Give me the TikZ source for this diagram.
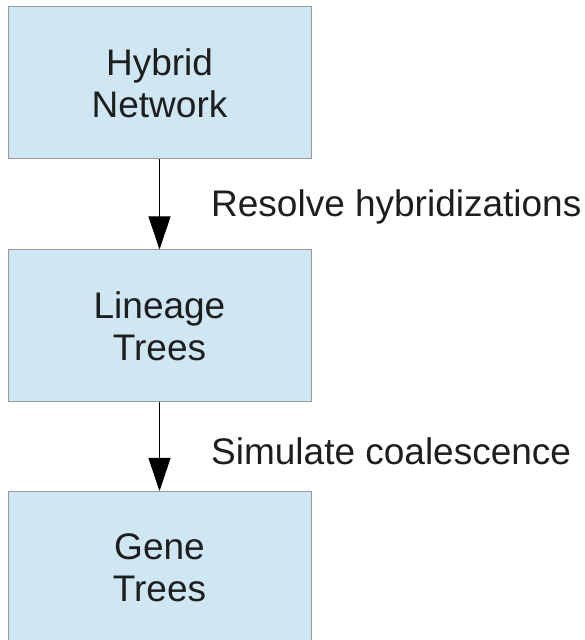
\documentclass[tikz,border=0pt]{standalone}
\usepackage{fontspec}
\setmainfont{Liberation Sans}
\usetikzlibrary{arrows.meta}
\definecolor{stagefill}{HTML}{CFE6F3}
\definecolor{stageline}{HTML}{999999}
\definecolor{stagetext}{HTML}{1E1E1E}
\tikzstyle{stage}=[draw=stageline, fill=stagefill, line width=1pt, inner sep=0,
                   minimum width=303pt, minimum height=152pt, align=center,
                   text=stagetext, font=\fontsize{37}{42}\selectfont]
\tikzstyle{steplabel}=[anchor=base west, inner sep=0, text=stagetext,
                       font=\fontsize{37}{42}\selectfont]
\tikzstyle{flow}=[line width=1pt, -{Triangle[width=22pt, length=33pt]}]

\begin{document}
\begin{tikzpicture}[x=1pt, y=1pt]
        % Fix the page to the reference size.
        \useasboundingbox (0, 0) rectangle (585, 640);
        \node[stage] (network) at (159.5, 557)  {Hybrid\\Network};
        \node[stage] (lineage) at (159.5, 314)  {Lineage\\Trees};
        \node[stage] (gene)    at (159.5, 72.5) {Gene\\Trees};
        \node[steplabel] (resolve)  at (211, 423) {Resolve hybridizations};
        \node[steplabel] (simulate) at (211, 175) {Simulate coalescence};
        \draw[flow] (network.south) -- (lineage.north);
        \draw[flow] (lineage.south) -- (gene.north);
    \end{tikzpicture}
\end{document}
